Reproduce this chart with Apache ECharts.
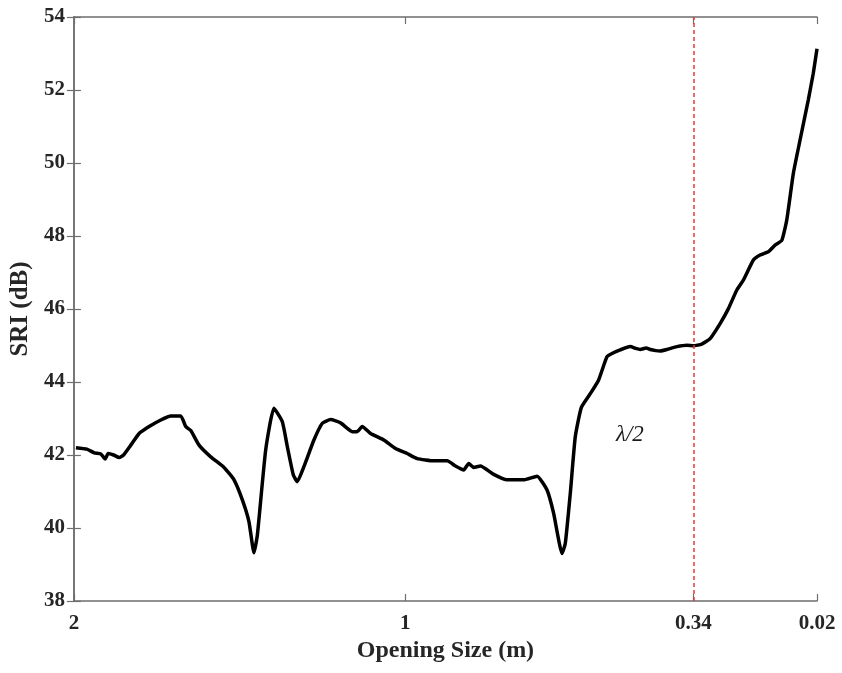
<!DOCTYPE html>
<html>
<head>
<meta charset="utf-8">
<title>SRI vs Opening Size</title>
<script src="https://cdn.jsdelivr.net/npm/echarts@6/dist/echarts.min.js"></script>
<style>
  html, body { margin: 0; padding: 0; background: #fff; }
  #chart { width: 842px; height: 673px; }
</style>
</head>
<body>
<div id="chart"></div>
<script>
// x is the position along the opening-size axis (0 = 2 m, 100 = 0.02 m)
const xPos = [
  0.27, 1.75, 2.73, 3.63, 4.21, 4.61, 5.34, 6.09, 6.68, 7.66,
  8.78, 10.12, 11.69, 13.04, 14.38, 15.05, 15.73, 16.84, 18.41, 20.20,
  21.55, 22.67, 23.56, 24.23, 24.69, 25.81, 26.92, 28.05, 28.72, 29.53,
  30.07, 30.95, 32.30, 33.43, 34.54, 35.89, 37.46, 38.13, 38.80, 39.92,
  41.71, 43.28, 44.85, 46.20, 48.43, 50.23, 51.34, 52.46, 53.13, 53.80,
  54.70, 56.49, 58.29, 60.52, 62.33, 63.67, 64.56, 65.69, 66.13, 66.80,
  67.47, 68.28, 69.49, 70.60, 71.73, 72.41, 73.52, 74.87, 75.60, 76.21,
  77.00, 77.55, 78.30, 78.90, 79.80, 81.14, 82.49, 83.37, 84.50, 85.62,
  86.96, 88.08, 89.21, 90.09, 91.44, 92.34, 93.45, 94.35, 95.26, 95.93,
  96.82, 97.72, 98.83, 99.50, 100
];
const sri = [
  42.20, 42.16, 42.06, 42.03, 41.89, 42.04, 42.00, 41.93, 42.00, 42.27,
  42.59, 42.78, 42.96, 43.07, 43.07, 42.78, 42.67, 42.27, 41.95, 41.66,
  41.32, 40.77, 40.17, 39.32, 39.81, 42.14, 43.28, 42.91, 42.23, 41.45,
  41.27, 41.68, 42.41, 42.87, 42.97, 42.88, 42.64, 42.64, 42.78, 42.59,
  42.41, 42.18, 42.04, 41.90, 41.84, 41.84, 41.70, 41.59, 41.77, 41.66,
  41.70, 41.47, 41.32, 41.32, 41.42, 41.04, 40.40, 39.30, 39.58, 40.95,
  42.50, 43.30, 43.68, 44.05, 44.69, 44.78, 44.88, 44.97, 44.92, 44.89,
  44.93, 44.89, 44.86, 44.85, 44.89, 44.97, 45.01, 44.99, 45.04, 45.19,
  45.60, 46.01, 46.52, 46.79, 47.34, 47.48, 47.57, 47.75, 47.88, 48.44,
  49.72, 50.63, 51.73, 52.46, 53.13
];
const xTickPos = [0, 44.6, 83.37, 100];
const xTickLabels = ['2', '1', '0.34', '0.02'];
const halfWavelengthPos = 83.37;

const font = '"Liberation Serif", "Times New Roman", serif';
const axisColor = '#6e6e6e';

let data = xPos.map((x, i) => [x, sri[i]]);
let labelFor = v => {
  let i = xTickPos.findIndex(p => Math.abs(p - v) < 1e-6);
  return i >= 0 ? xTickLabels[i] : '';
};

let myChart = echarts.init(document.getElementById('chart'));
myChart.setOption({
  animation: false,
  grid: { left: 73, right: 25, top: 17, bottom: 72 },
  xAxis: [
    {
      type: 'value', min: 0, max: 100, position: 'bottom',
      name: 'Opening Size (m)', nameLocation: 'middle', nameGap: 36,
      nameTextStyle: { fontFamily: font, fontWeight: 'bold', fontSize: 24, color: '#262626' },
      axisLine: { lineStyle: { color: axisColor, width: 1.5 } },
      axisTick: { inside: true, length: 7, customValues: xTickPos, lineStyle: { color: axisColor, width: 1.2 } },
      axisLabel: { customValues: xTickPos, formatter: labelFor, margin: 12,
        fontFamily: font, fontWeight: 'bold', fontSize: 21, color: '#262626' },
      splitLine: { show: false }
    },
    {
      type: 'value', min: 0, max: 100, position: 'top',
      axisLine: { lineStyle: { color: axisColor, width: 1.5 } },
      axisTick: { inside: true, length: 7, customValues: xTickPos, lineStyle: { color: axisColor, width: 1.2 } },
      axisLabel: { show: false },
      splitLine: { show: false }
    }
  ],
  yAxis: [
    {
      type: 'value', min: 38, max: 54, interval: 2, position: 'left',
      name: 'SRI (dB)', nameLocation: 'middle', nameGap: 36, nameRotate: 90,
      nameTextStyle: { fontFamily: font, fontWeight: 'bold', fontSize: 25, color: '#262626' },
      axisLine: { show: true, lineStyle: { color: axisColor, width: 1.5 } },
      axisTick: { show: true, inside: true, length: 7, lineStyle: { color: axisColor, width: 1.2 } },
      axisLabel: { margin: 9, fontFamily: font, fontWeight: 'bold', fontSize: 21, color: '#262626' },
      splitLine: { show: false }
    },
    {
      type: 'value', min: 38, max: 54, interval: 2, position: 'right',
      axisLine: { show: true, lineStyle: { color: axisColor, width: 1.5 } },
      axisTick: { show: true, inside: true, length: 7, lineStyle: { color: axisColor, width: 1.2 } },
      axisLabel: { show: false },
      splitLine: { show: false }
    }
  ],
  graphic: [
    {
      type: 'text', left: 616, top: 423,
      style: { text: 'λ/2', fontFamily: font, fontStyle: 'italic', fontSize: 23, fill: '#1a1a1a' }
    }
  ],
  series: [
    {
      type: 'line',
      data: data,
      showSymbol: false,
      smooth: 0.15,
      lineStyle: { color: '#000', width: 3.5 },
      markLine: {
        silent: true,
        symbol: ['none', 'none'],
        label: { show: false },
        lineStyle: { color: '#e8383d', type: [4, 3], width: 1.5 },
        data: [{ xAxis: halfWavelengthPos }]
      },
      z: 3
    }
  ]
});
</script>
</body>
</html>
